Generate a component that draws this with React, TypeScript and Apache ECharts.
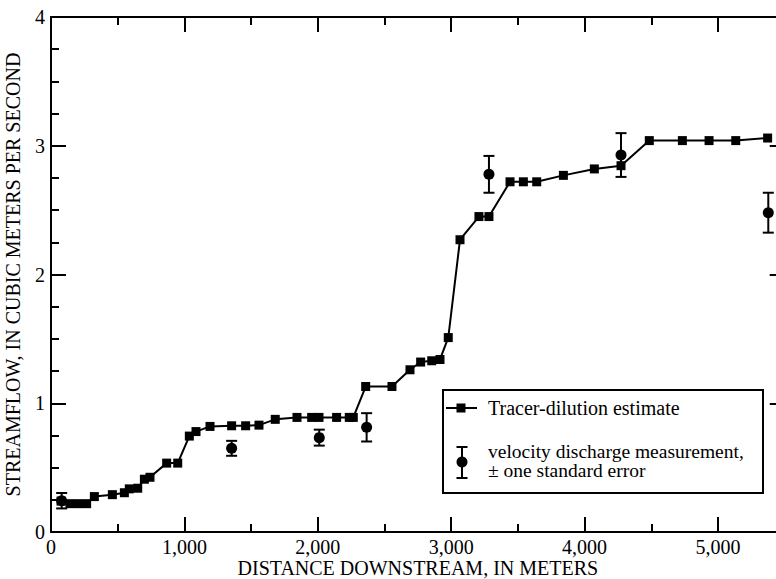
import React, { useEffect, useRef } from "react";
import * as echarts from "echarts";

// Tracer-dilution estimate (distance m, streamflow m3/s)
const tracerDistance = [75, 142, 205, 267, 325, 460, 550, 587, 650, 700, 742, 867, 950, 1037, 1087, 1192, 1354, 1459, 1559, 1681, 1844, 1954, 2009, 2141, 2236, 2266, 2359, 2556, 2691, 2771, 2854, 2916, 2978, 3066, 3208, 3283, 3441, 3541, 3641, 3841, 4073, 4273, 4485, 4733, 4933, 5133, 5372];
const tracerFlow = [0.24, 0.22, 0.22, 0.22, 0.275, 0.29, 0.305, 0.335, 0.34, 0.41, 0.425, 0.535, 0.535, 0.745, 0.78, 0.82, 0.825, 0.825, 0.83, 0.875, 0.89, 0.89, 0.89, 0.89, 0.89, 0.89, 1.13, 1.13, 1.26, 1.32, 1.33, 1.34, 1.51, 2.27, 2.45, 2.45, 2.72, 2.72, 2.72, 2.77, 2.82, 2.845, 3.04, 3.04, 3.04, 3.04, 3.06];

// Velocity discharge measurements
const measDistance = [80, 1354, 2011, 2366, 3283, 4273, 5377];
const measFlow = [0.243, 0.65, 0.733, 0.813, 2.778, 2.928, 2.48];
const measStdErr = [0.06, 0.058, 0.062, 0.11, 0.143, 0.17, 0.155];

const xMajorTicks = [0, 1000, 2000, 3000, 4000, 5000];
const xMinorTicks = [500, 1500, 2500, 3500, 4500];

const FONT = "Liberation Serif";

export default function App() {
  const ref = useRef<HTMLDivElement>(null);

  useEffect(() => {
    document.body.style.margin = "0";
    if (!ref.current) return;
    const chart = echarts.init(ref.current, null, { renderer: "svg" });

    const lineStyle = { color: "#000", width: 2 };
    const baseX = {
      type: "value" as const,
      min: 0,
      max: 5500,
      splitLine: { show: false },
      axisLine: { show: false, onZero: false, lineStyle },
      axisLabel: { show: false },
      axisTick: { show: true, inside: true, length: 15, lineStyle, customValues: xMajorTicks },
    };

    const fmt = (v: number) => {
      if (v > 5000) return "";
      const s = String(Math.round(v));
      return s.replace(/\B(?=(\d{3})+(?!\d))/g, ",");
    };

    const txt = { color: "#000", fontFamily: FONT, fontSize: 20 };

    const option: any = {
      animation: false,
      textStyle: { fontFamily: FONT },
      grid: { left: 51, top: 17, width: 733.7, height: 515, containLabel: false, outerBoundsMode: "none" },
      xAxis: [
        {
          ...baseX,
          position: "bottom",
          axisLine: { show: true, onZero: false, lineStyle },
          axisLabel: { show: true, customValues: xMajorTicks, formatter: fmt, ...txt, margin: 5 },
          name: "DISTANCE DOWNSTREAM, IN METERS",
          nameLocation: "middle",
          nameGap: 27,
          nameMoveOverlap: false,
          nameTextStyle: { ...txt, lineHeight: 18 },
        },
        {
          ...baseX,
          position: "bottom",
          axisTick: { show: true, inside: true, length: 8, lineStyle, customValues: xMinorTicks },
        },
        {
          ...baseX,
          position: "top",
          axisLine: { show: true, onZero: false, lineStyle },
        },
        {
          ...baseX,
          position: "top",
          axisTick: { show: true, inside: true, length: 8, lineStyle, customValues: xMinorTicks },
        },
      ],
      yAxis: [
        {
          type: "value",
          position: "left",
          min: 0,
          max: 4,
          interval: 1,
          splitLine: { show: false },
          axisLine: { show: true, onZero: false, lineStyle },
          axisTick: { show: true, inside: true, length: 15, lineStyle },
          minorTick: { show: true, splitNumber: 4, length: 8, lineStyle },
          axisLabel: { ...txt, margin: 6 },
          name: "STREAMFLOW, IN CUBIC METERS PER SECOND",
          nameLocation: "middle",
          nameGap: 28,
          nameTextStyle: { ...txt },
        },
        {
          type: "value",
          position: "right",
          min: 0,
          max: 4,
          interval: 1,
          splitLine: { show: false },
          axisLine: { show: true, onZero: false, lineStyle },
          axisTick: { show: true, inside: true, length: 15, lineStyle },
          minorTick: { show: true, splitNumber: 4, length: 8, lineStyle },
          axisLabel: { show: false },
        },
      ],
      series: [
        {
          type: "line",
          name: "Tracer-dilution estimate",
          xAxisIndex: 0,
          yAxisIndex: 0,
          data: tracerDistance.map((d, i) => [d, tracerFlow[i]]),
          symbol: "rect",
          symbolSize: 9,
          itemStyle: { color: "#000", opacity: 1 },
          lineStyle: { color: "#000", width: 2 },
          z: 3,
        },
        {
          type: "custom",
          name: "error",
          xAxisIndex: 0,
          yAxisIndex: 0,
          data: measDistance.map((d, i) => [d, measFlow[i] - measStdErr[i], measFlow[i] + measStdErr[i]]),
          renderItem: (params: any, api: any) => {
            const x = api.value(0);
            const lo = api.coord([x, api.value(1)]);
            const hi = api.coord([x, api.value(2)]);
            const hw = 5.5;
            const st = { stroke: "#000", lineWidth: 2 };
            return {
              type: "group",
              children: [
                { type: "line", shape: { x1: lo[0], y1: lo[1], x2: hi[0], y2: hi[1] }, style: st },
                { type: "line", shape: { x1: lo[0] - hw, y1: lo[1], x2: lo[0] + hw, y2: lo[1] }, style: st },
                { type: "line", shape: { x1: hi[0] - hw, y1: hi[1], x2: hi[0] + hw, y2: hi[1] }, style: st },
              ],
            };
          },
          z: 4,
        },
        {
          type: "scatter",
          name: "velocity discharge measurement",
          xAxisIndex: 0,
          yAxisIndex: 0,
          data: measDistance.map((d, i) => [d, measFlow[i]]),
          symbol: "circle",
          symbolSize: 11,
          itemStyle: { color: "#000", opacity: 1 },
          z: 5,
        },
      ],
      graphic: [
        {
          type: "rect",
          shape: { x: 443, y: 390, width: 320, height: 103 },
          style: { fill: "#fff", stroke: "#000", lineWidth: 2 },
          z: 10,
        },
        {
          type: "line",
          shape: { x1: 446, y1: 408, x2: 477, y2: 408 },
          style: { stroke: "#000", lineWidth: 2 },
          z: 11,
        },
        {
          type: "rect",
          shape: { x: 456.5, y: 403.5, width: 9, height: 9 },
          style: { fill: "#000" },
          z: 11,
        },
        {
          type: "text",
          x: 488,
          y: 408,
          style: { text: "Tracer-dilution estimate", fontFamily: FONT, fontSize: 20, fill: "#000", verticalAlign: "middle" },
          z: 11,
        },
        {
          type: "line",
          shape: { x1: 462, y1: 447, x2: 462, y2: 478 },
          style: { stroke: "#000", lineWidth: 2 },
          z: 11,
        },
        {
          type: "line",
          shape: { x1: 456.5, y1: 447, x2: 467.5, y2: 447 },
          style: { stroke: "#000", lineWidth: 2 },
          z: 11,
        },
        {
          type: "line",
          shape: { x1: 456.5, y1: 478, x2: 467.5, y2: 478 },
          style: { stroke: "#000", lineWidth: 2 },
          z: 11,
        },
        {
          type: "circle",
          shape: { cx: 462, cy: 462, r: 5.5 },
          style: { fill: "#000" },
          z: 11,
        },
        {
          type: "text",
          x: 488,
          y: 461,
          style: {
            text: "velocity discharge measurement,\n± one standard error",
            fontFamily: FONT,
            fontSize: 19.5,
            lineHeight: 19,
            fill: "#000",
            verticalAlign: "middle",
          },
          z: 11,
        },
      ],
    };

    chart.setOption(option);
    return () => chart.dispose();
  }, []);

  return (
    <div style={{ width: 776, height: 579, overflow: "hidden", position: "relative", background: "#fff" }}>
      <div ref={ref} style={{ width: 800, height: 579 }} />
    </div>
  );
}
